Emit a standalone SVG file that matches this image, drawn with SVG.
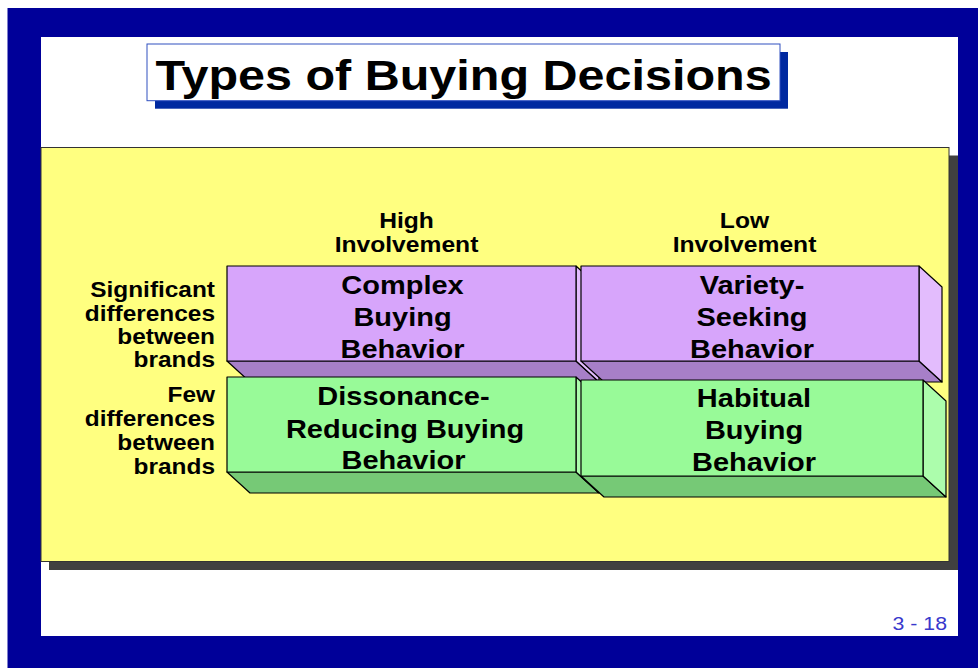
<svg xmlns="http://www.w3.org/2000/svg" width="978" height="668" viewBox="0 0 978 668">
<style>
.t{font-family:"Liberation Sans",Arial,sans-serif;font-weight:bold;fill:#000}
.box{font-size:26px;text-anchor:middle}
.lab{font-size:22px;text-anchor:end}
.hdr{font-size:22px;text-anchor:middle}
.edge{stroke:#000;stroke-width:1.2;stroke-linejoin:round}
.pf{fill:#D7A5FB}.pb{fill:#A77FC8}.pr{fill:#E3BCFD}
.gf{fill:#98FA98}.gb{fill:#76C976}.gr{fill:#ACFDAC}
</style>
<rect x="0" y="0" width="978" height="668" fill="#FFFFFF"/>
<rect x="7.5" y="8" width="970.5" height="660" fill="#000099"/>
<rect x="41" y="37" width="917" height="599" fill="#FFFFFF"/>
<g id="title">
<rect x="155" y="52" width="633" height="56.7" fill="#0029A0"/>
<rect x="147" y="44" width="633" height="56.7" fill="#FFFFFF" stroke="#3050C0" stroke-width="1"/>
<text class="t" transform="translate(463.5 90) scale(1.128 1)" font-size="43" text-anchor="middle">Types of Buying Decisions</text>
</g>
<g id="panel">
<rect x="49" y="155.5" width="909" height="414.5" fill="#404040"/>
<rect x="41" y="147.5" width="908" height="414" fill="#FFFF80" stroke="#333333" stroke-width="1"/>
</g>
<g id="header-high">
<text class="t hdr" transform="translate(406.5 228) scale(1.12 1)">High</text>
<text class="t hdr" transform="translate(406.5 252) scale(1.12 1)">Involvement</text>
</g>
<g id="header-low">
<text class="t hdr" transform="translate(744.5 228) scale(1.12 1)">Low</text>
<text class="t hdr" transform="translate(744.5 252) scale(1.12 1)">Involvement</text>
</g>
<g id="label-significant">
<text class="t lab" transform="translate(215 297) scale(1.11 1)">Significant</text>
<text class="t lab" transform="translate(215 320.5) scale(1.11 1)">differences</text>
<text class="t lab" transform="translate(215 344) scale(1.11 1)">between</text>
<text class="t lab" transform="translate(215 367) scale(1.11 1)">brands</text>
</g>
<g id="label-few">
<text class="t lab" transform="translate(215 402) scale(1.11 1)">Few</text>
<text class="t lab" transform="translate(215 426) scale(1.11 1)">differences</text>
<text class="t lab" transform="translate(215 450) scale(1.11 1)">between</text>
<text class="t lab" transform="translate(215 474) scale(1.11 1)">brands</text>
</g>
<g id="complex">
<polygon class="pb edge" points="227,361 576,361 599,382 250,382"/>
<polygon class="pr edge" points="576,266 599,287 599,382 576,361"/>
<rect class="pf edge" x="227" y="266" width="349" height="95"/>
<text class="t box" transform="translate(402.5 293.5) scale(1.115 1)">Complex</text>
<text class="t box" transform="translate(402.5 326) scale(1.115 1)">Buying</text>
<text class="t box" transform="translate(402.5 358) scale(1.115 1)">Behavior</text>
</g>
<g id="variety">
<polygon class="pb edge" points="581,361 919,361 942,382 604,382"/>
<polygon class="pr edge" points="919,266 942,287 942,382 919,361"/>
<rect class="pf edge" x="581" y="266" width="338" height="95"/>
<text class="t box" transform="translate(752 293.5) scale(1.115 1)">Variety-</text>
<text class="t box" transform="translate(752 325.5) scale(1.115 1)">Seeking</text>
<text class="t box" transform="translate(752 357.5) scale(1.115 1)">Behavior</text>
</g>
<g id="dissonance">
<polygon class="gb edge" points="227,472 576,472 599,493 250,493"/>
<polygon class="gr edge" points="576,377 599,398 599,493 576,472"/>
<rect class="gf edge" x="227" y="377" width="349" height="95"/>
<text class="t box" transform="translate(403.5 405) scale(1.115 1)">Dissonance-</text>
<text class="t box" transform="translate(405 438) scale(1.115 1)">Reducing Buying</text>
<text class="t box" transform="translate(403.5 468.5) scale(1.115 1)">Behavior</text>
</g>
<g id="habitual">
<polygon class="gb edge" points="581,476 923,476 946,497 604,497"/>
<polygon class="gr edge" points="923,380 946,401 946,497 923,476"/>
<rect class="gf edge" x="581" y="380" width="342" height="96"/>
<text class="t box" transform="translate(754 406.5) scale(1.115 1)">Habitual</text>
<text class="t box" transform="translate(754 438.5) scale(1.115 1)">Buying</text>
<text class="t box" transform="translate(754 470.5) scale(1.115 1)">Behavior</text>
</g>
<g id="page-number">
<text transform="translate(947 630) scale(1.15 1)" font-family="'Liberation Sans',Arial,sans-serif" font-size="18.5" text-anchor="end" fill="#3838CC">3 - 18</text>
</g>
</svg>
